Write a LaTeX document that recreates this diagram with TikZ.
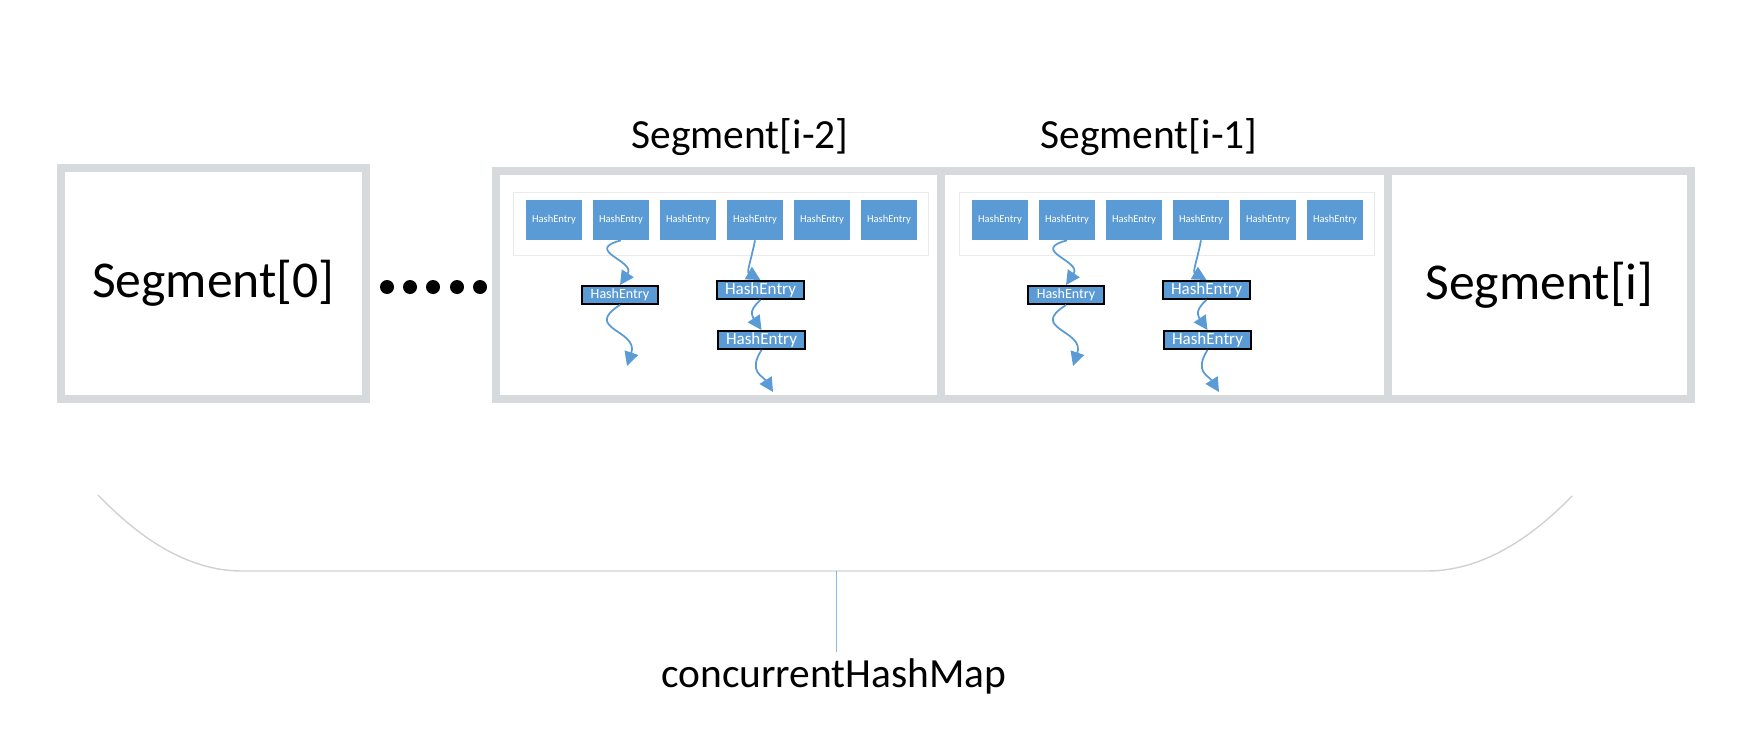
\documentclass[tikz,border=0pt]{standalone}
\usepackage{fontspec}
\setmainfont{Carlito}
\usetikzlibrary{arrows.meta, positioning}
\definecolor{segGrey}{RGB}{214,218,221}
\definecolor{entryBlue}{RGB}{91,155,213}
\tikzset{
seg box/.style={draw=segGrey, line width=4.5pt, inner sep=0pt}, % the thick grey segment frames
big text/.style={font=\fontsize{29.4}{32}\selectfont},
label text/.style={font=\fontsize{23.6}{26}\selectfont},
entry/.style={fill=entryBlue, text=white, minimum width=1.12cm, minimum height=0.8cm, inner sep=0pt, font=\fontsize{6}{7}\selectfont},
chain entry/.style={fill=entryBlue, draw=black, line width=1.1pt, text=white, minimum height=0.36cm, inner sep=0pt},
link/.style={draw=entryBlue, line width=1pt, -{Triangle[length=8pt,width=8pt]}},
dot/.style={circle, fill=black, minimum size=0.28cm, inner sep=0pt},
row frame/.style={draw=black!8, line width=0.4pt},
brace line/.style={draw=black!18, line width=0.8pt},
stem/.style={draw=entryBlue!70, line width=0.5pt},
}
\begin{document}
\begin{tikzpicture}[x=0.02cm, y=-0.02cm]
\useasboundingbox (0,0) rectangle (1743,730);

% segments
\node[seg box, minimum width=6.1cm, minimum height=4.62cm, big text] (seg0) at (213.5,283.5) {Segment[0]};
\node[seg box, minimum width=8.9cm, minimum height=4.56cm] (seg2) at (718.5,285) {};
\node[seg box, minimum width=8.94cm, minimum height=4.56cm] (seg1) at (1164.5,285) {};
\node[seg box, minimum width=6.06cm, minimum height=4.56cm, big text] (segi) at (1539.5,285) {Segment[i]};

\node[label text, anchor=base] (lab2) at (740,148) {Segment[i-2]};
\node[label text, anchor=base] (lab1) at (1149,148) {Segment[i-1]};

\foreach \i/\x in {1/387,2/410,3/433,4/457,5/480}
  \node[dot] (dot\i) at (\x,287) {};

% hash entries of the two open segments
\foreach \sx/\sg in {0/a,446/b}{
  \draw[row frame] ({\sx+513},192) rectangle ({\sx+928},255);
  \foreach \i in {1,...,6}
    \node[entry] (\sg-r\i) at ({\sx+554+67*(\i-1)},220) {HashEntry};
  \node[chain entry, minimum width=1.52cm, font=\fontsize{8}{9}\selectfont] (\sg-c1) at ({\sx+620},295) {HashEntry};
  \node[chain entry, minimum width=1.74cm, font=\fontsize{9.7}{11}\selectfont] (\sg-c2) at ({\sx+760.5},290) {HashEntry};
  \node[chain entry, minimum width=1.74cm, font=\fontsize{9.7}{11}\selectfont] (\sg-c3) at ({\sx+761.5},340) {HashEntry};
  \coordinate (\sg-e1) at ({\sx+627},366);
  \coordinate (\sg-e2) at ({\sx+773},392);
  \draw[link] (\sg-r2.south) .. controls +(-38,10) and +(16,-24) .. (\sg-c1.north);
  \draw[link] (\sg-c1.south) .. controls +(-38,24) and +(12,-36) .. (\sg-e1);
  \draw[link] (\sg-r4.south) .. controls +(-4,20) and +(-14,-8) .. (\sg-c2.north);
  \draw[link] (\sg-c2.south) .. controls +(-14,12) and +(-8,-12) .. (\sg-c3.north);
  \draw[link] (\sg-c3.south) .. controls +(-14,22) and +(-10,-16) .. (\sg-e2);
}

% the map brace
\draw[brace line] (98,495) .. controls (130,528) and (180,571) .. (242,571) -- (1427,571)
  .. controls (1489,571) and (1540,529) .. (1572,496);
\coordinate (brace-tip) at (836,571);
\node[label text, anchor=base] (map) at (834,687) {concurrentHashMap};
\draw[stem] (brace-tip) -- (brace-tip |- map.north);

\end{tikzpicture}
\end{document}
